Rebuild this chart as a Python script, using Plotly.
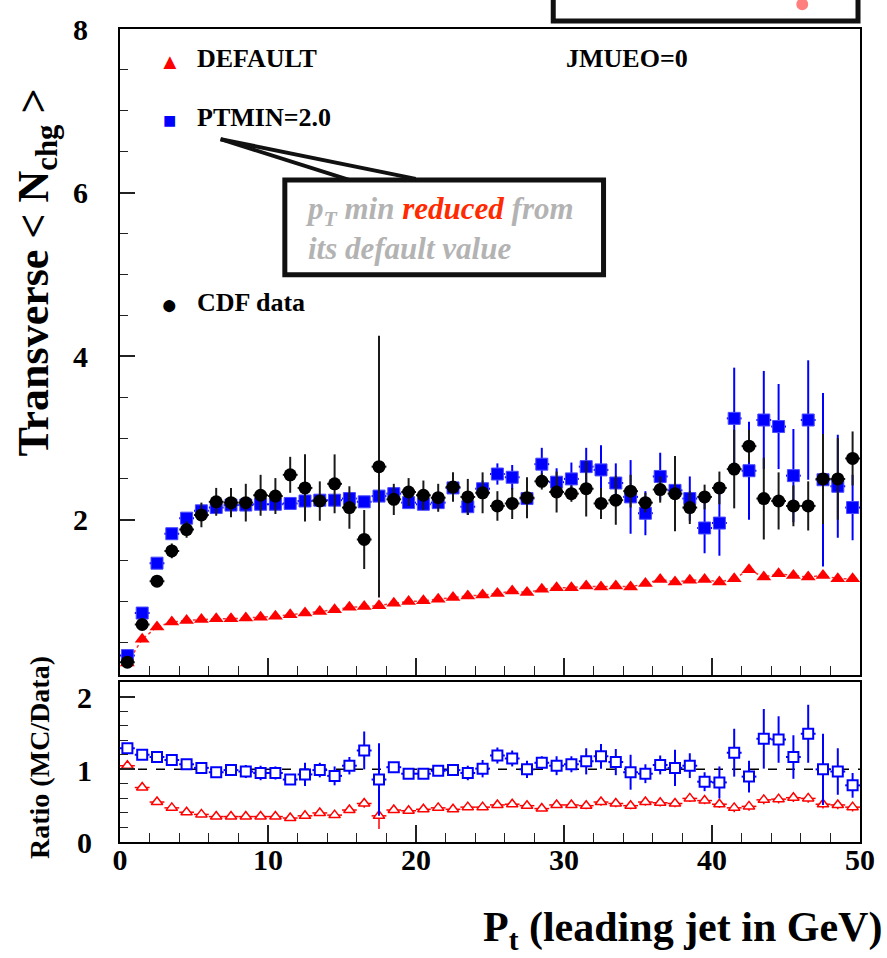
import plotly.graph_objects as go

# ---------------- data ----------------
pt_bins = [i + 0.5 for i in range(50)]

cdf_data = [0.26, 0.72, 1.25, 1.62, 1.88, 2.06, 2.22, 2.21, 2.21, 2.30,
            2.29, 2.55, 2.39, 2.23, 2.44, 2.15, 1.76, 2.65, 2.25, 2.34,
            2.30, 2.27, 2.40, 2.28, 2.33, 2.17, 2.20, 2.27, 2.47, 2.34,
            2.32, 2.38, 2.20, 2.24, 2.35, 2.21, 2.37, 2.32, 2.15, 2.28,
            2.39, 2.62, 2.90, 2.26, 2.23, 2.17, 2.17, 2.50, 2.50, 2.75]
cdf_err = [0.02, 0.03, 0.04, 0.09, 0.10, 0.15, 0.17, 0.18, 0.23, 0.25,
           0.22, 0.22, 0.41, 0.24, 0.36, 0.26, 0.36, 1.60, 0.19, 0.17,
           0.18, 0.17, 0.18, 0.22, 0.25, 0.18, 0.19, 0.25, 0.10, 0.25,
           0.10, 0.34, 0.19, 0.30, 0.20, 0.12, 0.16, 0.46, 0.20, 0.15,
           0.20, 0.48, 0.20, 0.50, 0.35, 0.25, 0.30, 0.55, 0.50, 0.33]

ptmin = [0.34, 0.86, 1.47, 1.83, 2.02, 2.11, 2.15, 2.18, 2.18, 2.19,
         2.19, 2.20, 2.23, 2.24, 2.24, 2.26, 2.22, 2.29, 2.32, 2.21,
         2.19, 2.21, 2.39, 2.16, 2.38, 2.56, 2.52, 2.26, 2.68, 2.46,
         2.50, 2.65, 2.61, 2.45, 2.28, 2.08, 2.53, 2.36, 2.26, 1.90,
         1.96, 3.24, 2.60, 3.22, 3.14, 2.54, 3.22, 2.49, 2.41, 2.15]
ptmin_err = [0.02, 0.02, 0.02, 0.02, 0.02, 0.02, 0.03, 0.03, 0.03, 0.03,
             0.03, 0.05, 0.05, 0.05, 0.05, 0.05, 0.05, 0.06, 0.07, 0.06,
             0.06, 0.07, 0.10, 0.10, 0.10, 0.13, 0.15, 0.12, 0.20, 0.17,
             0.20, 0.23, 0.30, 0.24, 0.45, 0.27, 0.29, 0.40, 0.27, 0.31,
             0.40, 0.62, 0.60, 0.60, 0.52, 0.57, 0.73, 1.06, 0.63, 0.40]

default = [0.25, 0.54, 0.69, 0.75, 0.77, 0.78, 0.79, 0.79, 0.80, 0.81,
           0.82, 0.84, 0.86, 0.88, 0.90, 0.93, 0.94, 0.95, 0.98, 1.00,
           1.01, 1.03, 1.05, 1.07, 1.08, 1.10, 1.13, 1.11, 1.15, 1.17,
           1.17, 1.19, 1.18, 1.19, 1.18, 1.22, 1.27, 1.24, 1.26, 1.27,
           1.24, 1.28, 1.39, 1.30, 1.34, 1.32, 1.30, 1.32, 1.28, 1.28]
default_err = [0.01] * 20 + [0.015] * 20 + [0.02] * 10

ratio_ptmin = [1.29, 1.20, 1.17, 1.13, 1.07, 1.02, 0.96, 0.99, 0.97, 0.95,
               0.95, 0.86, 0.93, 0.99, 0.91, 1.05, 1.26, 0.86, 1.03, 0.94,
               0.94, 0.98, 0.99, 0.95, 1.01, 1.19, 1.15, 1.00, 1.09, 1.05,
               1.07, 1.11, 1.18, 1.10, 0.96, 0.94, 1.06, 1.02, 1.05, 0.83,
               0.82, 1.23, 0.90, 1.42, 1.41, 1.17, 1.49, 1.00, 0.97, 0.78]
ratio_ptmin_err = [0.03, 0.03, 0.03, 0.04, 0.04, 0.04, 0.05, 0.07, 0.09, 0.10,
                   0.09, 0.05, 0.16, 0.10, 0.13, 0.12, 0.26, 0.50, 0.05, 0.05,
                   0.06, 0.07, 0.07, 0.10, 0.12, 0.11, 0.11, 0.12, 0.09, 0.13,
                   0.11, 0.18, 0.17, 0.18, 0.24, 0.13, 0.13, 0.25, 0.17, 0.13,
                   0.22, 0.33, 0.22, 0.41, 0.32, 0.30, 0.40, 0.49, 0.32, 0.17]

ratio_default = [1.05, 0.75, 0.55, 0.47, 0.41, 0.38, 0.35, 0.35, 0.35, 0.35,
                 0.35, 0.33, 0.36, 0.40, 0.37, 0.44, 0.53, 0.36, 0.44, 0.43,
                 0.45, 0.47, 0.45, 0.48, 0.48, 0.51, 0.52, 0.50, 0.46, 0.51,
                 0.51, 0.50, 0.55, 0.53, 0.50, 0.55, 0.54, 0.53, 0.60, 0.57,
                 0.52, 0.47, 0.49, 0.58, 0.59, 0.61, 0.60, 0.52, 0.51, 0.48]
ratio_default_err = ([0.02] * 16 + [0.06, 0.18] + [0.03] * 13 +
                     [0.05] * 10 + [0.06] * 9)

main_ticks = [2, 4, 6, 8]
ratio_ticks = [0, 1, 2]
x_ticks = [0, 10, 20, 30, 40, 50]

# ---------------- layout helpers (pixel -> paper) ----------------
L, R, T, B = 120, 863, 23, 842
def PX(px):
    return (px - L) / (R - L)
def PY(py):
    return (B - py) / (B - T)

FONT = "Liberation Serif"
fig = go.Figure()

# main panel
fig.add_trace(go.Scatter(
    x=pt_bins, y=default, mode="lines+markers", xaxis="x", yaxis="y",
    line=dict(color="#ff3030", width=1.5, dash="dot"),
    marker=dict(symbol="triangle-up", size=13, color="#ff0000"),
    error_y=dict(type="data", array=default_err, color="#ff0000", thickness=1.5, width=0),
    showlegend=False))
fig.add_trace(go.Scatter(
    x=pt_bins, y=ptmin, mode="markers", xaxis="x", yaxis="y",
    marker=dict(symbol="square", size=12, color="#0000ff",
                line=dict(color="#4a4aff", width=1)),
    error_y=dict(type="data", array=ptmin_err, color="#0000ff", thickness=2, width=0),
    error_x=dict(type="constant", value=0.5, color="#0000ff", thickness=2, width=0),
    showlegend=False))
fig.add_trace(go.Scatter(
    x=pt_bins, y=cdf_data, mode="markers", xaxis="x", yaxis="y",
    marker=dict(symbol="circle", size=13, color="#000000"),
    error_y=dict(type="data", array=cdf_err, color="#1a1a1a", thickness=2, width=0),
    error_x=dict(type="constant", value=0.5, color="#1a1a1a", thickness=2, width=0),
    showlegend=False))

# ratio panel (white-filled markers hide the error bars behind them)
fig.add_trace(go.Scatter(
    x=pt_bins, y=ratio_default, mode="markers", xaxis="x2", yaxis="y2",
    marker=dict(symbol="triangle-up", size=10, color="white",
                line=dict(color="#ff0000", width=1.5)),
    error_y=dict(type="data", array=ratio_default_err, color="#ff0000", thickness=1.5, width=0),
    error_x=dict(type="constant", value=0.5, color="#ff0000", thickness=1.5, width=0),
    showlegend=False))
fig.add_trace(go.Scatter(
    x=pt_bins, y=ratio_ptmin, mode="markers", xaxis="x2", yaxis="y2",
    marker=dict(symbol="square", size=10, color="white",
                line=dict(color="#0000ff", width=2)),
    error_y=dict(type="data", array=ratio_ptmin_err, color="#0000ff", thickness=2, width=0),
    error_x=dict(type="constant", value=0.5, color="#0000ff", thickness=2, width=0),
    showlegend=False))

tickfont = dict(family=FONT, size=30, color="black", weight="bold")
axis_common = dict(showline=True, mirror=True, linewidth=2, linecolor="black",
                   ticks="inside", tickcolor="#222", tickwidth=1.5,
                   showgrid=False, zeroline=False, tickfont=tickfont)

fig.update_layout(
    width=887, height=958,
    margin=dict(l=L, r=887 - R, t=T, b=958 - B),
    paper_bgcolor="white", plot_bgcolor="white",
    font=dict(family=FONT, color="black"),
    xaxis=dict(domain=[0, 1], anchor="y", range=[0, 50], tickvals=x_ticks,
               ticklen=17, showticklabels=False,
               minor=dict(ticks="inside", dtick=2, ticklen=9, tickcolor="#222", tickwidth=1),
               **axis_common),
    yaxis=dict(domain=[PY(674), 1], anchor="x", range=[0.1, 8], tickvals=main_ticks,
               ticklen=15, ticklabelstandoff=24,
               minor=dict(ticks="inside", dtick=0.5, ticklen=8, tickcolor="#222", tickwidth=1),
               **axis_common),
    xaxis2=dict(domain=[0, 1], anchor="y2", range=[0, 50], tickvals=x_ticks,
                ticklen=17, ticklabelstandoff=-10,
                minor=dict(ticks="inside", dtick=2, ticklen=9, tickcolor="#222", tickwidth=1),
                **axis_common),
    yaxis2=dict(domain=[0, PY(681)], anchor="x2", range=[0, 2.2], tickvals=ratio_ticks,
                ticklen=15, ticklabelstandoff=20, ticklabelshift=1,
                minor=dict(ticks="inside", dtick=0.2, ticklen=8, tickcolor="#222", tickwidth=1),
                **axis_common),
)

shapes = [
    # dashed unity line in ratio panel
    dict(type="line", xref="x2", yref="y2", x0=0, x1=50, y0=1, y1=1,
         line=dict(color="black", width=1.5, dash="dash"), layer="below"),
    # callout box
    dict(type="rect", xref="paper", yref="paper", x0=PX(285.5), x1=PX(605.5),
         y0=PY(270.5), y1=PY(175), line=dict(color="#111", width=5), fillcolor="white"),
    dict(type="line", xref="paper", yref="paper", x0=PX(221), y0=PY(134), x1=PX(350), y1=PY(175),
         line=dict(color="#111", width=4)),
    dict(type="line", xref="paper", yref="paper", x0=PX(221), y0=PY(134), x1=PX(417), y1=PY(174),
         line=dict(color="#111", width=4)),
    # partially visible box at top right
    dict(type="rect", xref="paper", yref="paper", x0=PX(555), x1=PX(861),
         y0=PY(15), y1=PY(-30), line=dict(color="#111", width=5), fillcolor="white"),
    dict(type="circle", xref="paper", yref="paper", x0=PX(799), x1=PX(811),
         y0=PY(4), y1=PY(-8), line=dict(width=0), fillcolor="#ff7f7f"),
]
fig.update_layout(shapes=shapes)

def ann(text, px, py, size, xanchor="left", color="black", angle=0, italic=False, **kw):
    return dict(text=text, xref="paper", yref="paper", x=PX(px), y=PY(py),
                xanchor=xanchor, yanchor="middle", showarrow=False, textangle=angle,
                font=dict(family=FONT, size=size, color=color, weight="bold",
                          style="italic" if italic else "normal"), **kw)

annotations = [
    ann("Transverse &lt; N<sub>chg</sub> &gt;", 36, 268, 44, xanchor="center", angle=-90),
    ann("Ratio (MC/Data)", 39, 757, 28, xanchor="center", angle=-90),
    ann("P<sub>t</sub> (leading jet in GeV)", 887, 931, 42, xanchor="right"),
    ann("DEFAULT", 195, 53, 26),
    ann("PTMIN=2.0", 195, 112, 26),
    ann("CDF data", 195, 299, 26),
    ann("JMUEO=0", 566, 53, 26),
    ann("<span style='color:#ff0000'>▲</span>", 170, 56, 22, xanchor="center"),
    ann("<span style='color:#0000ff'>■</span>", 170, 115, 22, xanchor="center"),
    ann("●", 170, 301, 28, xanchor="center"),
    ann("p<sub>T</sub> min <span style='color:#ff2a00'>reduced</span> from<br>its default value",
        304, 224, 31, color="#b3b3b3", italic=True, align="left"),
]
fig.update_layout(annotations=annotations)

fig.write_html("out.html")
